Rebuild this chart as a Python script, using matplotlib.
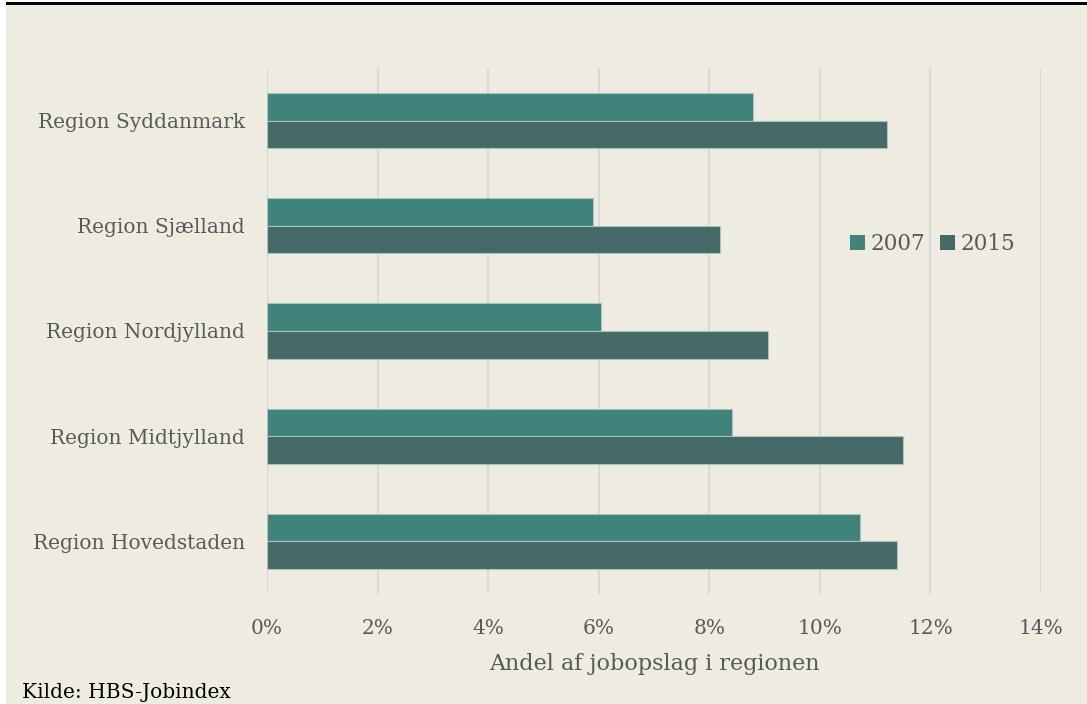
import numpy as np
import matplotlib.pyplot as plt
from matplotlib.patches import Rectangle
from matplotlib.ticker import FuncFormatter

regions = ["Region Hovedstaden", "Region Midtjylland", "Region Nordjylland",
           "Region Sjælland", "Region Syddanmark"]
share_2007 = [10.72, 8.41, 6.04, 5.90, 8.79]
share_2015 = [11.39, 11.50, 9.06, 8.19, 11.21]
xticks = [0, 2, 4, 6, 8, 10, 12, 14]

bg = "#EEEBE0"
c2007 = "#3F837B"
c2015 = "#456966"
grey = "#595959"

plt.rcParams['font.family'] = ['DejaVu Serif']

fig = plt.figure(figsize=(10.87, 7.04), dpi=100, facecolor="white")
# beige panel and black top band
fig.patches.append(Rectangle((6 / 1087, 0), 1 - 6 / 1087, 1 - 5 / 704,
                             transform=fig.transFigure, facecolor=bg,
                             edgecolor="none", zorder=-2))
fig.patches.append(Rectangle((6 / 1087, 1 - 5 / 704), 1 - 6 / 1087, 3 / 704,
                             transform=fig.transFigure, facecolor="black",
                             edgecolor="none", zorder=-1))

ax = fig.add_axes([267 / 1087, 1 - 594 / 704, (1041 - 267) / 1087, (594 - 68) / 704])
ax.set_facecolor("none")

y = np.arange(len(regions))
h = 0.262
ax.barh(y + h / 2, share_2007, height=h, color=c2007, edgecolor="#A9C4C0",
        linewidth=0.8, label="2007", zorder=3)
ax.barh(y - h / 2, share_2015, height=h, color=c2015, edgecolor="#A9C4C0",
        linewidth=0.8, label="2015", zorder=3)

ax.set_xlim(0, 14)
ax.set_ylim(-0.5, len(regions) - 0.5)
ax.set_xticks(xticks)
ax.xaxis.set_major_formatter(FuncFormatter(lambda v, p: f"{v:.0f}%"))
ax.set_yticks(y)
ax.set_yticklabels(regions)
ax.grid(axis="x", color="#D9D9D9", linewidth=1.5, zorder=0)
for s in ax.spines.values():
    s.set_visible(False)
ax.tick_params(length=0, labelsize=14.5, colors=grey)
ax.tick_params(axis="y", pad=16)
ax.tick_params(axis="x", pad=18)
ax.set_xlabel("Andel af jobopslag i regionen", fontsize=16, color=grey, labelpad=11)

leg = ax.legend(loc="center left", bbox_to_anchor=(0.728, 0.665), ncol=2, frameon=False,
                fontsize=15.5, handlelength=0.7, handleheight=0.7, columnspacing=0.7,
                handletextpad=0.25, labelcolor=grey)
for hnd in leg.legend_handles:
    hnd.set_edgecolor("none")

fig.text(22 / 1087, 1 - 693 / 704, "Kilde: HBS-Jobindex", fontsize=14.5,
         color="black", va="center", ha="left")

fig.savefig("out.png", dpi=100, facecolor="white")
